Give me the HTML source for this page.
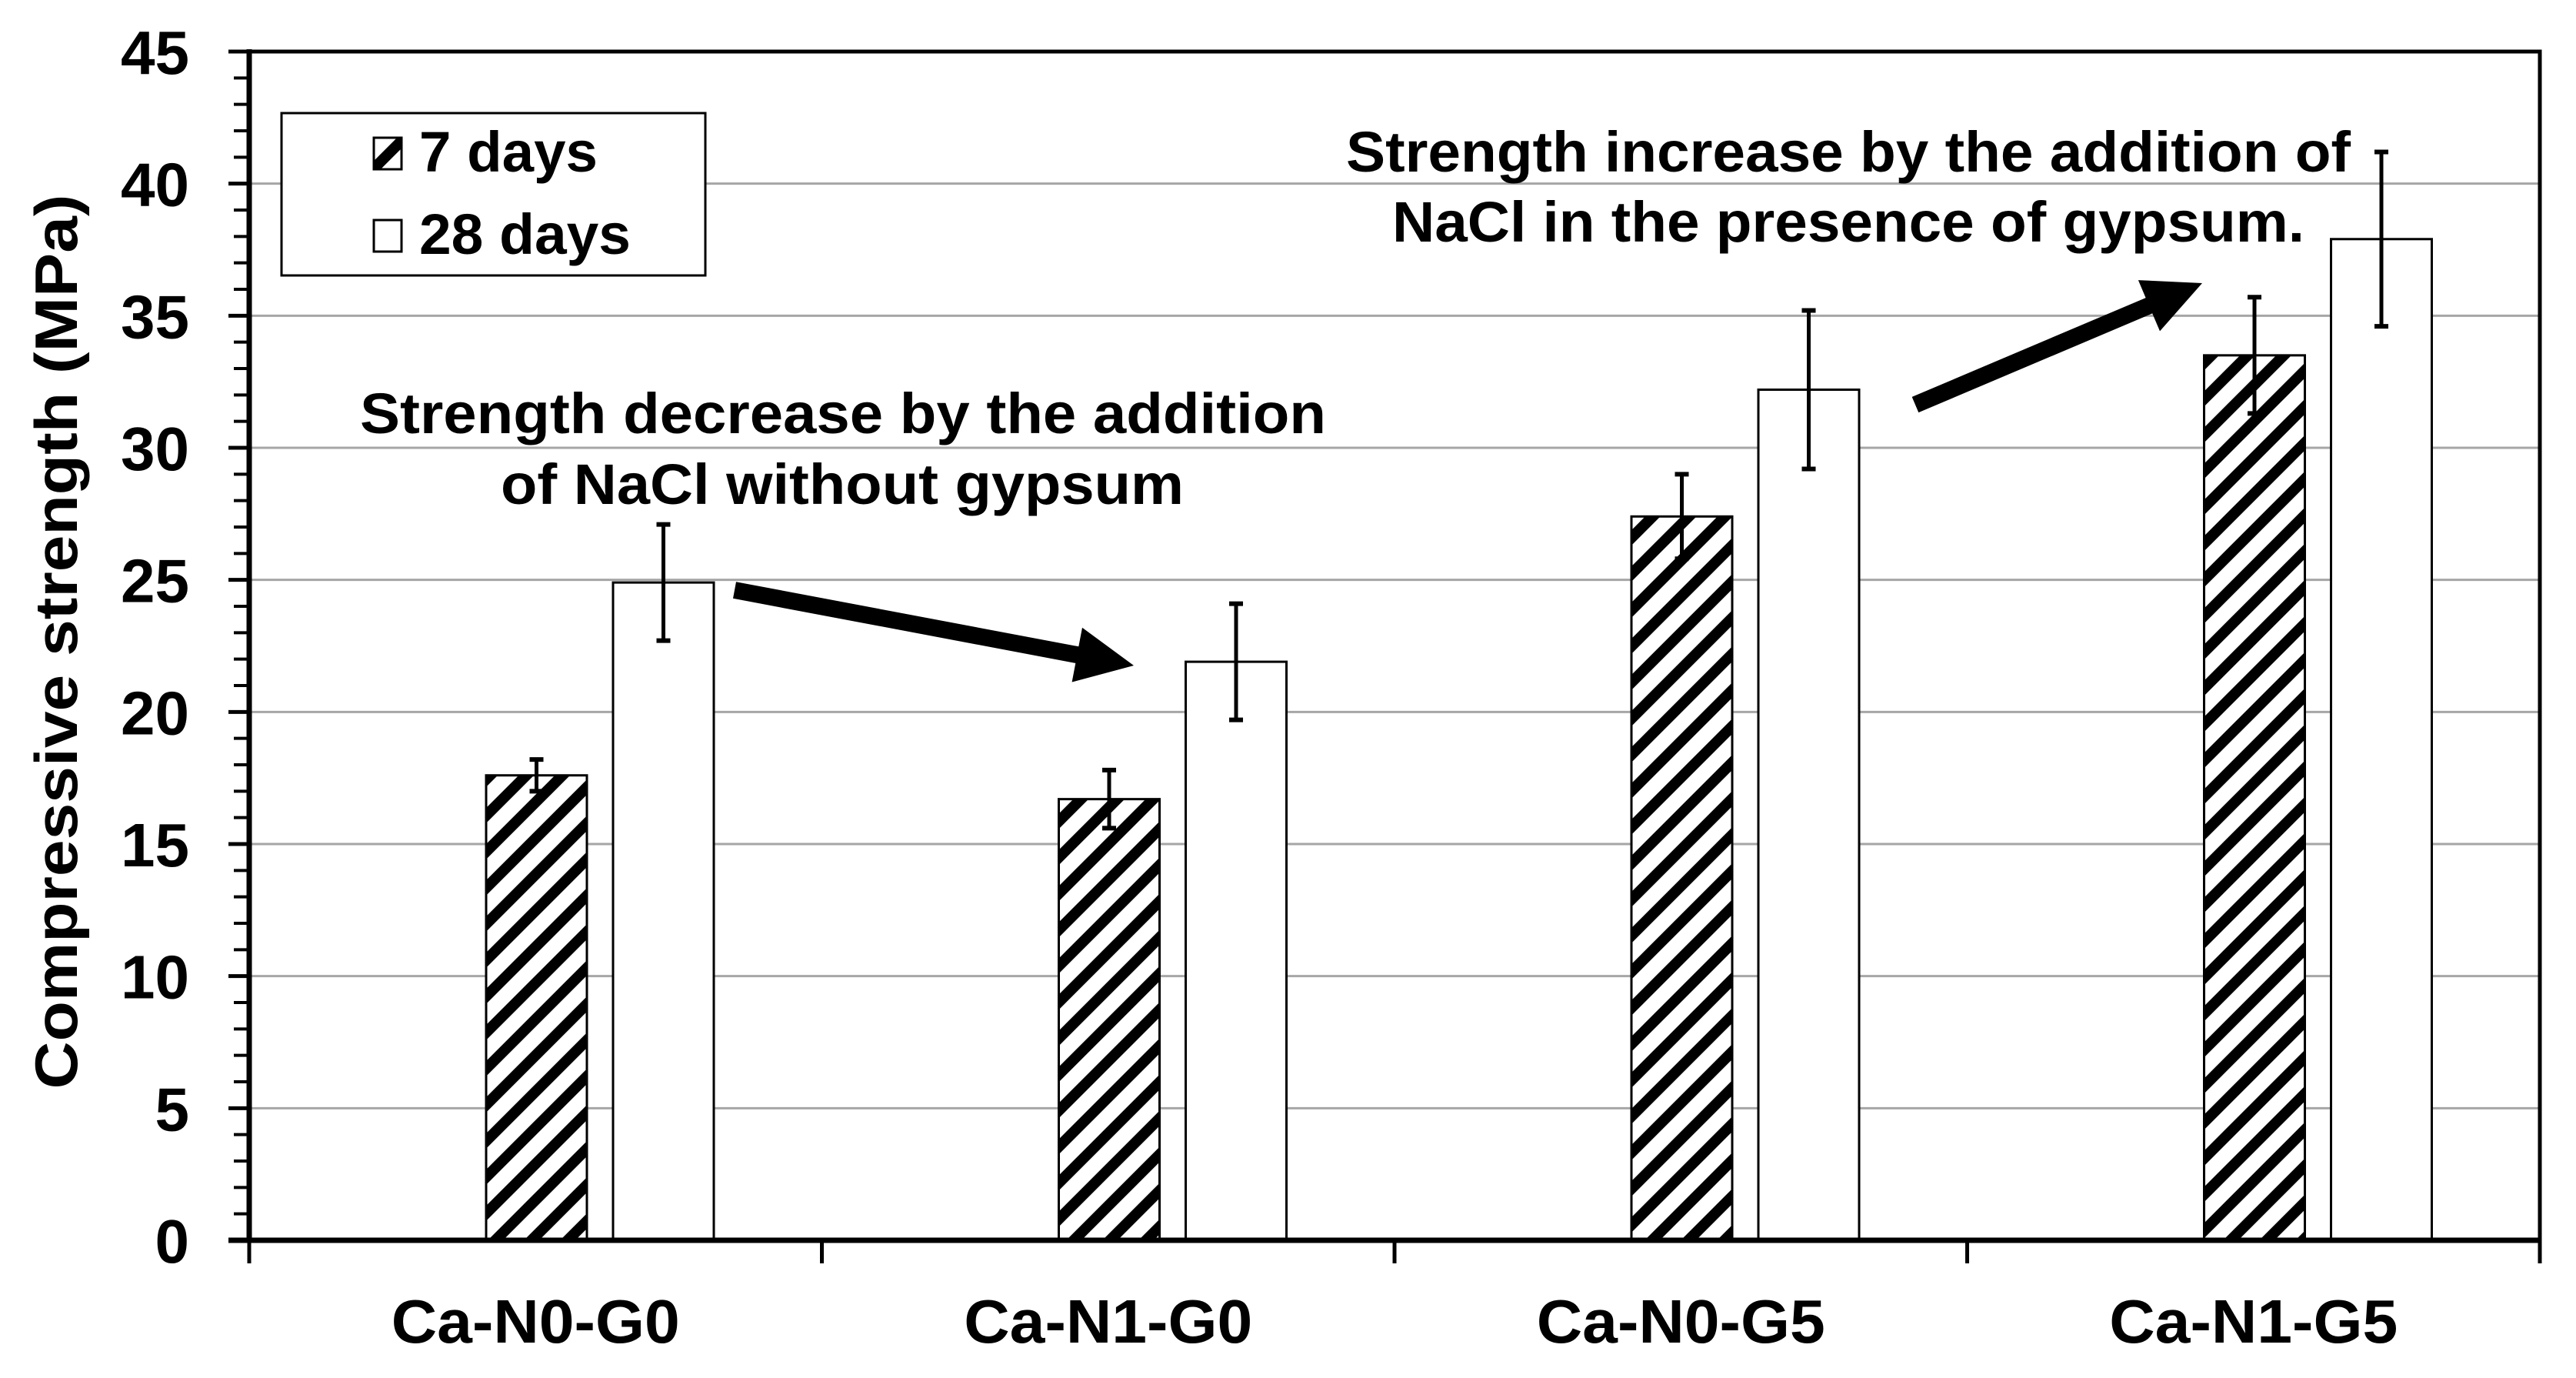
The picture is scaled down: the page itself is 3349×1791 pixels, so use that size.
<!DOCTYPE html>
<html><head><meta charset="utf-8"><style>
html,body{margin:0;padding:0;background:#fff;}
svg{display:block;}
text{font-family:"Liberation Sans",sans-serif;font-weight:bold;fill:#000;}
</style></head><body>
<svg id="chart" width="3349" height="1791" viewBox="0 0 3349 1791" xmlns="http://www.w3.org/2000/svg">
<defs>
<pattern id="hatch" patternUnits="userSpaceOnUse" width="47" height="47">
<rect width="47" height="47" fill="#fff"/>
<path d="M-12,12 L12,-12 M-12,59 L59,-12 M35,59 L59,35" stroke="#000" stroke-width="14"/>
</pattern>
</defs>
<g id="grid"></g>
<g id="bars"></g>
<g id="errs"></g>
<g id="axes"></g>
<text x="0" y="0" font-size="78" text-anchor="middle" textLength="1163" lengthAdjust="spacingAndGlyphs" transform="translate(100,834) rotate(-90)">Compressive strength (MPa)</text>
<g>
<rect x="366" y="147" width="551" height="211" fill="#fff" stroke="#000" stroke-width="3"/>
<rect x="486" y="179" width="36" height="41" fill="url(#hatch)" stroke="#000" stroke-width="3"/>
<text x="545" y="223" font-size="74" textLength="232" lengthAdjust="spacingAndGlyphs">7 days</text>
<rect x="486" y="286" width="36" height="41" fill="#fff" stroke="#000" stroke-width="3"/>
<text x="545" y="330" font-size="74" textLength="275" lengthAdjust="spacingAndGlyphs">28 days</text>
</g>
<g>
<text x="468" y="563" font-size="74" textLength="1256" lengthAdjust="spacingAndGlyphs">Strength decrease by the addition</text>
<text x="651" y="655" font-size="74" textLength="888" lengthAdjust="spacingAndGlyphs">of NaCl without gypsum</text>
</g>
<g>
<text x="1750" y="223" font-size="74" textLength="1306" lengthAdjust="spacingAndGlyphs">Strength increase by the addition of</text>
<text x="1810" y="314" font-size="74" textLength="1186" lengthAdjust="spacingAndGlyphs">NaCl in the presence of gypsum.</text>
</g>
<g id="arrows"></g>
</svg>
<script>
const categories = ["Ca-N0-G0", "Ca-N1-G0", "Ca-N0-G5", "Ca-N1-G5"];
const days7 = [17.6, 16.7, 27.4, 33.5];
const days7Err = [0.6, 1.1, 1.6, 2.2];
const days28 = [24.9, 21.9, 32.2, 37.9];
const days28Err = [2.2, 2.2, 3.0, 3.3];
const yTicks = [0, 5, 10, 15, 20, 25, 30, 35, 40, 45];

const NS = "http://www.w3.org/2000/svg";
const X0 = 324, X1 = 3302, Y0 = 1612, YTOP = 67, YMAX = 45;
const catW = (X1 - X0) / categories.length;
function yS(v){ return Y0 - v * (Y0 - YTOP) / YMAX; }
function xCat(i){ return X0 + i * catW; }
function mk(tag, attrs, parent){
  const e = document.createElementNS(NS, tag);
  for (const k in attrs) e.setAttribute(k, attrs[k]);
  parent.appendChild(e);
  return e;
}
const grid = document.getElementById('grid');
const bars = document.getElementById('bars');
const errs = document.getElementById('errs');
const axes = document.getElementById('axes');
const svg = document.getElementById('chart');

yTicks.forEach(function(t){
  if (t > 0 && t < 45) {
    const g = mk('line', {x1:X0, x2:X1, y1:yS(t), y2:yS(t), stroke:'#a6a6a6', 'stroke-width':3}, grid);
    
    
  }
  const tk = mk('line', {x1:X0-27, x2:X0, y1:yS(t), y2:yS(t), stroke:'#000', 'stroke-width':5}, axes);
  
  
  const lb = mk('text', {x:246, y:yS(t)+29, 'font-size':80, 'text-anchor':'end'}, svg);
  lb.textContent = t;
  
  
});
for (let v = 1; v < YMAX; v++) {
  if (v % 5 === 0) continue;
  const m = mk('line', {x1:X0-20, x2:X0, y1:yS(v), y2:yS(v), stroke:'#000', 'stroke-width':4}, axes);
  
  
}

categories.forEach(function(c, i){
  const s = xCat(i);
  const b1 = mk('rect', {x:s+308, y:yS(days7[i]), width:131, height:Y0-yS(days7[i]), fill:'url(#hatch)', stroke:'#000', 'stroke-width':3}, bars);
  
  
  const b2 = mk('rect', {x:s+473, y:yS(days28[i]), width:131, height:Y0-yS(days28[i]), fill:'#fff', stroke:'#000', 'stroke-width':3}, bars);
  
  
  [[s+308+65.5, days7[i], days7Err[i], '7-days'], [s+473+65.5, days28[i], days28Err[i], '28-days']].forEach(function(e){
    const g = mk('g', {}, errs);
    
    
    const hi = yS(e[1] + e[2]), lo = yS(e[1] - e[2]);
    mk('line', {x1:e[0], x2:e[0], y1:hi, y2:lo, stroke:'#000', 'stroke-width':5}, g);
    mk('line', {x1:e[0]-9, x2:e[0]+9, y1:hi, y2:hi, stroke:'#000', 'stroke-width':6}, g);
    mk('line', {x1:e[0]-9, x2:e[0]+9, y1:lo, y2:lo, stroke:'#000', 'stroke-width':6}, g);
  });
  const ct = mk('line', {x1:s, x2:s, y1:Y0, y2:Y0+30, stroke:'#000', 'stroke-width':5}, axes);
  
  
  const lb = mk('text', {x:s+catW/2, y:1745, 'font-size':80, 'text-anchor':'middle', textLength:375, lengthAdjust:'spacingAndGlyphs'}, svg);
  lb.textContent = c;
  
  
});
const lastT = mk('line', {x1:X1, x2:X1, y1:Y0, y2:Y0+30, stroke:'#000', 'stroke-width':5}, axes);


const frame = mk('path', {d:'M'+X0+','+Y0+' L'+X0+','+YTOP+' L'+X1+','+YTOP+' L'+X1+','+Y0, fill:'none', stroke:'#000', 'stroke-width':5}, axes);


const xa = mk('line', {x1:X0-27, x2:X1, y1:Y0, y2:Y0, stroke:'#000', 'stroke-width':7}, axes);


const ya = mk('line', {x1:X0, x2:X0, y1:YTOP-3, y2:Y0+3, stroke:'#000', 'stroke-width':7}, axes);



function arrow(x0,y0,x1,y1,name){
  const dx=x1-x0, dy=y1-y0, L=Math.hypot(dx,dy), ux=dx/L, uy=dy/L, px=-uy, py=ux;
  const hw=11, hl=75, hh=36;
  const bx=x1-ux*hl, by=y1-uy*hl;
  const pts=[[x0+px*hw,y0+py*hw],[bx+px*hw,by+py*hw],[bx+px*hh,by+py*hh],[x1,y1],[bx-px*hh,by-py*hh],[bx-px*hw,by-py*hw],[x0-px*hw,y0-py*hw]];
  const p = mk('polygon', {points:pts.map(function(q){return q[0].toFixed(1)+','+q[1].toFixed(1);}).join(' '), fill:'#000'}, document.getElementById('arrows'));
  
  
}
arrow(955, 767, 1474, 865, 'arrow-decrease');
arrow(2490, 526, 2863, 368, 'arrow-increase');
</script>
</body></html>
